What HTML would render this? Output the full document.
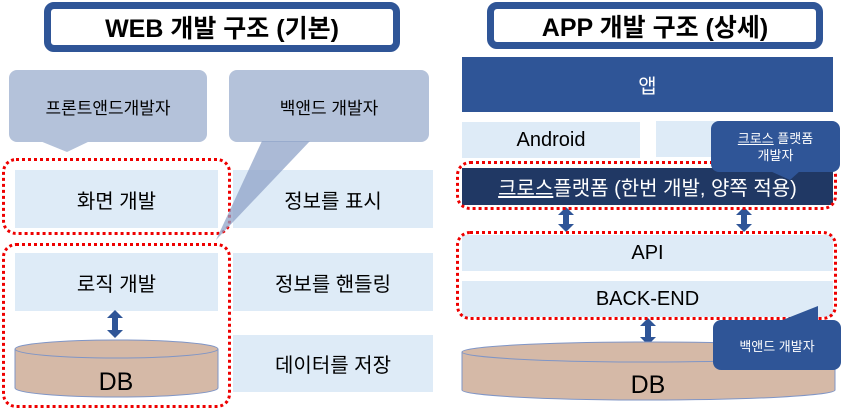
<!DOCTYPE html>
<html><head><meta charset="utf-8"><style>
body{margin:0;width:842px;height:414px;background:#fff;overflow:hidden;position:relative;font-family:"Liberation Sans","Noto Sans CJK KR",sans-serif}
.a{position:absolute;box-sizing:border-box;display:flex;align-items:center;justify-content:center;color:#000}
.lb{background:#DEEBF7;font-size:20px}
.ttl{border:7px solid #2F5597;border-radius:10px;background:#fff;font-weight:bold;font-size:25px}
.red{position:absolute;box-sizing:border-box;border:3px dotted #E00;border-radius:14px}
</style></head><body>
<div class="a ttl" style="left:44px;top:2px;width:356px;height:50px">WEB 개발 구조 (기본)</div>
<div class="a" style="left:9px;top:70px;width:198px;height:72px;background:#B4C2DA;border-radius:8px;font-size:17px">프론트앤드개발자</div>
<div class="a" style="left:229px;top:70px;width:200px;height:72px;background:#B4C2DA;border-radius:8px;font-size:17px">백앤드 개발자</div>
<div class="a lb" style="left:15px;top:170px;width:203px;height:58px">화면 개발</div>
<div class="a lb" style="left:233px;top:170px;width:200px;height:58px">정보를 표시</div>
<div class="a lb" style="left:15px;top:253px;width:203px;height:58px">로직 개발</div>
<div class="a lb" style="left:233px;top:253px;width:200px;height:58px">정보를 핸들링</div>
<div class="a lb" style="left:233px;top:335px;width:200px;height:57px">데이터를 저장</div>
<svg width="842" height="414" style="position:absolute;left:0;top:0">
<polygon points="115,310 123,318 118,318 118,330 123,330 115,338 107,330 112,330 112,318 107,318" fill="#2F5597"/>
<path d="M15,349 L15,388 A101.5,9 0 0 0 218,388 L218,349" fill="#D5B9A7" stroke="#7F95C6"/>
<ellipse cx="116.5" cy="349" rx="101.5" ry="9" fill="#D5B9A7" stroke="#7F95C6"/>
<text x="116" y="390" font-size="25" text-anchor="middle" font-family="Liberation Sans">DB</text>
<polygon points="566,207 574,215 569,215 569,224 574,224 566,232 558,224 563,224 563,215 558,215" fill="#2F5597"/>
<polygon points="744,207 752,215 747,215 747,224 752,224 744,232 736,224 741,224 741,215 736,215" fill="#2F5597"/>
<polygon points="648,318 656,326 651,326 651,337 656,337 648,345 640,337 645,337 645,326 640,326" fill="#2F5597"/>
<path d="M462,352 L462,390 A186.5,10 0 0 0 835,390 L835,352" fill="#D5B9A7" stroke="#7F95C6"/>
<ellipse cx="648.5" cy="352" rx="186.5" ry="10" fill="#D5B9A7" stroke="#7F95C6"/>
<text x="648" y="393" font-size="25" text-anchor="middle" font-family="Liberation Sans">DB</text>
</svg>
<div class="red" style="left:2px;top:158px;width:229px;height:77px"></div>
<div class="red" style="left:2px;top:243px;width:229px;height:165px"></div>
<div class="a ttl" style="left:487px;top:2px;width:336px;height:47px">APP 개발 구조 (상세)</div>
<div class="a" style="left:462px;top:57px;width:371px;height:55px;background:#2F5597;color:#fff;font-size:20px">앱</div>
<div class="a lb" style="left:462px;top:122px;width:178px;height:36px">Android</div>
<div class="a lb" style="left:656px;top:121px;width:177px;height:36px"></div>
<div class="a" style="left:462px;top:168px;width:371px;height:37px;background:#203864;color:#fff;font-size:20px"><span><u>크로스</u>플랫폼 (한번 개발, 양쪽 적용)</span></div>
<div class="red" style="left:456px;top:161px;width:381px;height:49px"></div>
<div class="a lb" style="left:462px;top:235px;width:371px;height:36px">API</div>
<div class="a lb" style="left:462px;top:281px;width:371px;height:36px">BACK-END</div>
<div class="red" style="left:456px;top:231px;width:381px;height:89px"></div>
<div class="a" style="left:711px;top:121px;width:129px;height:51px;background:#2F5597;color:#fff;border-radius:8px;font-size:13px;text-align:center;line-height:17px"><span><u>크로스</u> 플랫폼<br>개발자</span></div>
<div class="a" style="left:713px;top:320px;width:128px;height:50px;background:#2F5597;color:#fff;border-radius:8px;font-size:13px">백앤드 개발자</div>
<svg width="842" height="414" style="position:absolute;left:0;top:0">
<polygon points="40,141 90,141 67,152" fill="#B4C2DA"/>
<polygon points="262,141 310,141 216,240" fill="#8FA3C8" fill-opacity="0.75"/>
<polygon points="770,171 800,171 790,180" fill="#2F5597"/>
<polygon points="780,321 818,321 818,306" fill="#2F5597"/>
</svg>
</body></html>
